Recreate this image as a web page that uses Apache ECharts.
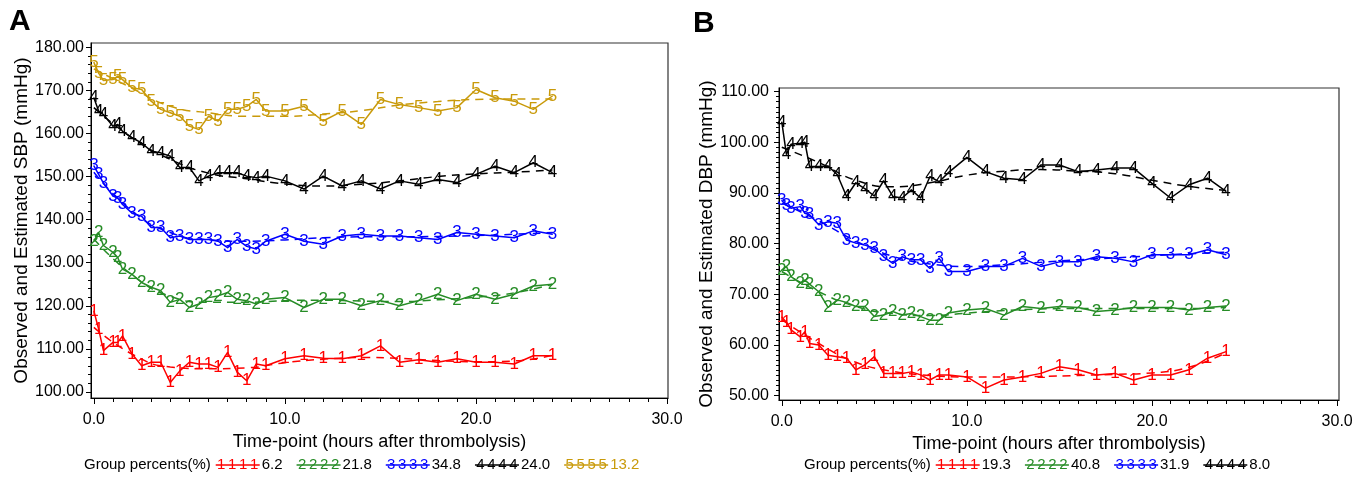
<!DOCTYPE html>
<html>
<head>
<meta charset="utf-8">
<script src="https://cdn.jsdelivr.net/npm/echarts@6/dist/echarts.min.js"></script>
<style>
html, body { margin: 0; padding: 0; background: #fff; }
#chart { width: 1367px; height: 479px; }
</style>
</head>
<body>
<div id="chart"></div>
<script>
// time points (hours after thrombolysis)
var hours = [0, 0.25, 0.5, 1, 1.25, 1.5, 2, 2.5, 3, 3.5, 4, 4.5, 5, 5.5, 6, 6.5, 7, 7.5, 8, 8.5, 9,
  10, 11, 12, 13, 14, 15, 16, 17, 18, 19, 20, 21, 22, 23, 24];
var estHours = [0, 2, 4, 6, 8, 10, 12, 14, 16, 18, 20, 22, 24];

// panel A - observed SBP by group
var sbp1 = [118.8, 114.6, 109.6, 111.5, 111.5, 113.0, 108.8, 106.1, 106.9, 106.9, 102.2, 104.9, 106.9, 106.5, 106.5, 105.7, 109.2, 104.6, 102.6, 106.5, 106.1,
  107.7, 108.4, 107.8, 107.7, 108.4, 110.7, 106.9, 107.5, 106.9, 107.7, 106.9, 106.9, 106.5, 108.4, 108.4];
var sbp2 = [135.0, 137.0, 134.0, 132.4, 131.2, 128.5, 127.3, 125.4, 124.3, 123.5, 120.8, 121.5, 119.6, 120.4, 121.9, 122.3, 123.1, 121.5, 121.2, 120.4, 121.5,
  121.9, 119.6, 121.5, 121.5, 120.0, 121.2, 120.0, 121.2, 122.7, 121.2, 122.7, 121.5, 122.7, 124.6, 125.0];
var sbp3 = [152.5, 150.5, 148.5, 145.5, 145.0, 143.5, 141.5, 140.8, 138.2, 138.2, 135.8, 136.2, 135.4, 135.4, 135.4, 135.0, 133.5, 135.4, 133.8, 133.2, 135.0,
  136.6, 135.0, 134.3, 136.2, 136.6, 136.2, 136.2, 135.8, 135.4, 137.0, 136.6, 136.2, 135.8, 137.4, 136.6];
var sbp4 = [168.3, 165.2, 164.4, 161.7, 162.1, 160.5, 159.0, 157.8, 155.9, 155.5, 154.7, 152.1, 152.1, 149.0, 150.1, 150.9, 150.9, 150.9, 150.1, 149.7, 150.1,
  149.0, 147.1, 150.1, 147.8, 149.0, 147.1, 149.0, 148.2, 149.3, 148.6, 150.5, 152.4, 150.9, 153.2, 150.9];
var sbp5 = [176.5, 174.0, 172.3, 172.5, 173.3, 172.5, 170.6, 170.2, 167.5, 165.6, 164.8, 164.0, 161.7, 160.9, 164.0, 162.9, 165.6, 165.6, 166.3, 167.9, 165.2,
  165.2, 166.3, 162.9, 165.2, 162.1, 167.9, 166.7, 166.0, 165.2, 166.0, 170.2, 168.3, 167.5, 165.6, 168.7];
// panel A - estimated SBP
var sbpEst1 = [115.0, 108.8, 105.8, 105.4, 105.6, 106.8, 107.6, 108.0, 107.8, 107.3, 107.0, 107.2, 108.5];
var sbpEst2 = [135.5, 127.2, 122.2, 120.8, 120.8, 121.2, 121.3, 121.1, 121.0, 121.4, 122.0, 123.0, 125.0];
var sbpEst3 = [151.0, 142.0, 137.0, 135.3, 135.0, 135.3, 135.8, 136.0, 136.0, 136.1, 136.3, 136.6, 137.0];
var sbpEst4 = [166.0, 159.0, 154.0, 150.8, 149.5, 148.3, 147.8, 148.2, 149.0, 150.0, 150.6, 151.0, 151.5];
var sbpEst5 = [175.0, 170.5, 166.3, 164.8, 164.0, 164.0, 164.5, 165.3, 166.6, 167.4, 167.9, 168.0, 168.0];

// panel B - observed DBP by group
var dbp1 = [65.5, 64.5, 63.0, 61.6, 62.6, 60.3, 60.0, 58.0, 57.7, 57.4, 55.1, 56.1, 57.7, 54.4, 54.4, 54.4, 54.7, 54.1, 53.1, 54.1, 54.1,
  53.7, 51.5, 53.1, 53.7, 54.4, 55.7, 55.1, 54.1, 54.4, 53.1, 54.1, 54.1, 55.1, 57.4, 58.7];
var dbp2 = [74.8, 75.5, 73.5, 72.2, 72.8, 72.0, 70.5, 67.4, 68.9, 68.4, 67.6, 67.6, 65.6, 65.9, 66.6, 65.9, 66.2, 65.6, 64.9, 64.9, 66.3,
  66.9, 67.2, 65.9, 67.6, 67.2, 67.6, 67.4, 66.6, 66.9, 67.4, 67.4, 67.4, 66.9, 67.4, 67.7];
var dbp3 = [88.5, 87.6, 87.0, 87.3, 86.0, 85.7, 83.7, 84.3, 84.0, 80.7, 80.1, 79.7, 79.1, 77.4, 76.1, 77.4, 76.8, 76.8, 75.1, 77.1, 74.5,
  74.5, 75.5, 75.5, 77.1, 75.5, 76.4, 76.4, 77.4, 77.1, 76.4, 77.8, 77.8, 77.8, 78.8, 77.8];
var dbp4 = [104.0, 97.6, 99.6, 99.8, 100.0, 95.2, 95.2, 95.3, 93.6, 89.3, 92.0, 90.8, 89.4, 92.4, 89.3, 89.0, 90.6, 89.0, 93.2, 92.2, 94.0,
  97.0, 94.2, 92.9, 92.6, 95.5, 95.5, 94.2, 94.5, 94.9, 94.9, 91.9, 89.0, 91.6, 92.9, 90.3];
// panel B - estimated DBP
var dbpEst1 = [65.0, 60.3, 56.6, 54.8, 54.0, 53.7, 53.7, 53.8, 54.0, 54.2, 54.5, 55.6, 58.5];
var dbpEst2 = [74.5, 70.5, 67.6, 66.2, 65.8, 66.3, 66.8, 67.1, 67.2, 67.2, 67.2, 67.2, 67.4];
var dbpEst3 = [88.0, 84.5, 80.5, 77.5, 76.0, 75.5, 75.8, 76.3, 76.8, 77.2, 77.6, 78.0, 78.3];
var dbpEst4 = [99.0, 96.0, 92.5, 91.2, 92.0, 93.5, 94.3, 94.6, 94.3, 93.8, 92.5, 91.3, 90.5];

// tick labels
var xTicks = [0, 10, 20, 30];
var sbpTicks = [100, 110, 120, 130, 140, 150, 160, 170, 180];
var dbpTicks = [50, 60, 70, 80, 90, 100, 110];

// legend percents
var pctA = ["6.2", "21.8", "34.8", "24.0", "13.2"];
var pctB = ["19.3", "40.8", "31.9", "8.0"];

var colors = ["#ff0000", "#268c26", "#0000ff", "#000000", "#c99a0a"];
var FONT = '"Liberation Sans", Arial, sans-serif';

function range(a, b, step) {
  var out = [];
  for (var v = a; v <= b + 1e-9; v += step) out.push(+v.toFixed(4));
  return out;
}

function obsSeries(vals, g, xi, yi) {
  var c = colors[g];
  return {
    type: "line", xAxisIndex: xi, yAxisIndex: yi, z: 4,
    data: hours.map(function (h, i) { return [h, vals[i]]; }),
    symbol: "circle", symbolSize: 1,
    itemStyle: { color: c },
    lineStyle: { color: c, width: 1.5 },
    label: {
      show: true, position: "inside", formatter: String(g + 1),
      color: c, fontSize: 17, fontFamily: FONT
    },
    silent: true
  };
}
function estSeries(vals, g, xi, yi) {
  var c = colors[g];
  return {
    type: "line", xAxisIndex: xi, yAxisIndex: yi, z: 3,
    data: estHours.map(function (h, i) { return [h, vals[i]]; }),
    smooth: true, symbol: "none",
    lineStyle: { color: c, width: 1.5, type: [8, 6] },
    silent: true
  };
}

function xMain(gi, min, max) {
  return {
    gridIndex: gi, type: "value", position: "bottom", min: min, max: max,
    axisLine: { show: true, onZero: false, lineStyle: { color: "#000", width: 1 } },
    axisTick: { show: true, customValues: xTicks, length: 6, lineStyle: { color: "#000" } },
    axisLabel: {
      customValues: xTicks, margin: 14, color: "#000", fontSize: 16, fontFamily: FONT,
      formatter: function (v) { return v.toFixed(1); }
    },
    splitLine: { show: false },
    name: "Time-point (hours after thrombolysis)", nameLocation: "middle", nameGap: 29,
    nameTextStyle: { color: "#000", fontSize: 18, fontFamily: FONT }
  };
}
function xMinor(gi, min, max) {
  return {
    gridIndex: gi, type: "value", position: "bottom", min: min, max: max,
    axisLine: { show: false, onZero: false },
    axisTick: { show: true, customValues: range(0, 30, 1), length: 4, lineStyle: { color: "#000" } },
    axisLabel: { show: false }, splitLine: { show: false }
  };
}
function yMain(gi, min, max, ticks, name, gap, margin) {
  return {
    gridIndex: gi, type: "value", position: "left", min: min, max: max,
    axisLine: { show: true, onZero: false, lineStyle: { color: "#000", width: 1 } },
    axisTick: { show: true, customValues: ticks, length: 5, lineStyle: { color: "#000" } },
    axisLabel: {
      customValues: ticks, margin: margin, color: "#000", fontSize: 16, fontFamily: FONT,
      formatter: function (v) { return v.toFixed(2); }
    },
    splitLine: { show: false },
    name: name, nameLocation: "middle", nameGap: gap,
    nameTextStyle: { color: "#000", fontSize: 19, fontFamily: FONT }
  };
}
function yMinor(gi, min, max, ticks) {
  return {
    gridIndex: gi, type: "value", position: "left", min: min, max: max,
    axisLine: { show: false, onZero: false },
    axisTick: { show: true, customValues: ticks, length: 3, lineStyle: { color: "#000" } },
    axisLabel: { show: false }, splitLine: { show: false }
  };
}

// legend rows drawn as graphics
var measureCtx = document.createElement("canvas").getContext("2d");
function textWidth(s, size) {
  measureCtx.font = size + "px " + FONT;
  return measureCtx.measureText(s).width;
}
function legendRow(x0, y, pcts, pctColors) {
  var els = [];
  var x = x0;
  els.push({ type: "text", x: x, y: y, style: { text: "Group percents(%)", fill: "#000", fontSize: 15, fontFamily: FONT, verticalAlign: "middle" } });
  x += textWidth("Group percents(%)", 15) + 5;
  pcts.forEach(function (p, g) {
    var c = colors[g];
    els.push({ type: "line", shape: { x1: x, y1: y, x2: x + 44, y2: y }, style: { stroke: c, lineWidth: 1.5 } });
    for (var k = 0; k < 4; k++) {
      els.push({ type: "text", x: x + 5.5 + k * 11, y: y, style: { text: String(g + 1), fill: c, fontSize: 15, fontFamily: FONT, align: "center", verticalAlign: "middle" } });
    }
    x += 46;
    els.push({ type: "text", x: x, y: y, style: { text: p, fill: pctColors[g], fontSize: 15, fontFamily: FONT, verticalAlign: "middle" } });
    x += textWidth(p, 15) + 14;
  });
  return els;
}

var chart = echarts.init(document.getElementById("chart"), null, { renderer: "canvas" });

var graphics = [
  { type: "text", x: 9, y: 7, style: { text: "A", fill: "#000", fontSize: 30, fontWeight: "bold", fontFamily: FONT } },
  { type: "text", x: 693, y: 9, style: { text: "B", fill: "#000", fontSize: 30, fontWeight: "bold", fontFamily: FONT } }
].concat(
  legendRow(84, 465, pctA, ["#000", "#000", "#000", "#000", colors[4]]),
  legendRow(804, 465, pctB, ["#000", "#000", "#000", "#000"])
);

var option = {
  animation: false,
  backgroundColor: "#fff",
  grid: [
    { left: 91, top: 43, width: 577, height: 355, show: true, borderColor: "#333", borderWidth: 1.2, backgroundColor: "transparent", outerBoundsMode: "none" },
    { left: 779, top: 88, width: 560, height: 312, show: true, borderColor: "#333", borderWidth: 1.2, backgroundColor: "transparent", outerBoundsMode: "none" }
  ],
  xAxis: [
    xMain(0, -0.15, 30.05), xMinor(0, -0.15, 30.05),
    xMain(1, -0.15, 30.1), xMinor(1, -0.15, 30.1)
  ],
  yAxis: [
    yMain(0, 98.6, 181, sbpTicks, "Observed and Estimated SBP (mmHg)", 57, 7),
    yMinor(0, 98.6, 181, range(100, 180, 2)),
    yMain(1, 49.15, 110.7, dbpTicks, "Observed and Estimated DBP (mmHg)", 63, 10),
    yMinor(1, 49.15, 110.7, range(50, 110, 1))
  ],
  series: [
    estSeries(sbpEst1, 0, 0, 0), estSeries(sbpEst2, 1, 0, 0), estSeries(sbpEst3, 2, 0, 0),
    estSeries(sbpEst4, 3, 0, 0), estSeries(sbpEst5, 4, 0, 0),
    obsSeries(sbp1, 0, 0, 0), obsSeries(sbp2, 1, 0, 0), obsSeries(sbp3, 2, 0, 0),
    obsSeries(sbp4, 3, 0, 0), obsSeries(sbp5, 4, 0, 0),
    estSeries(dbpEst1, 0, 2, 2), estSeries(dbpEst2, 1, 2, 2), estSeries(dbpEst3, 2, 2, 2),
    estSeries(dbpEst4, 3, 2, 2),
    obsSeries(dbp1, 0, 2, 2), obsSeries(dbp2, 1, 2, 2), obsSeries(dbp3, 2, 2, 2),
    obsSeries(dbp4, 3, 2, 2)
  ],
  graphic: graphics
};
chart.setOption(option);
</script>
</body>
</html>
